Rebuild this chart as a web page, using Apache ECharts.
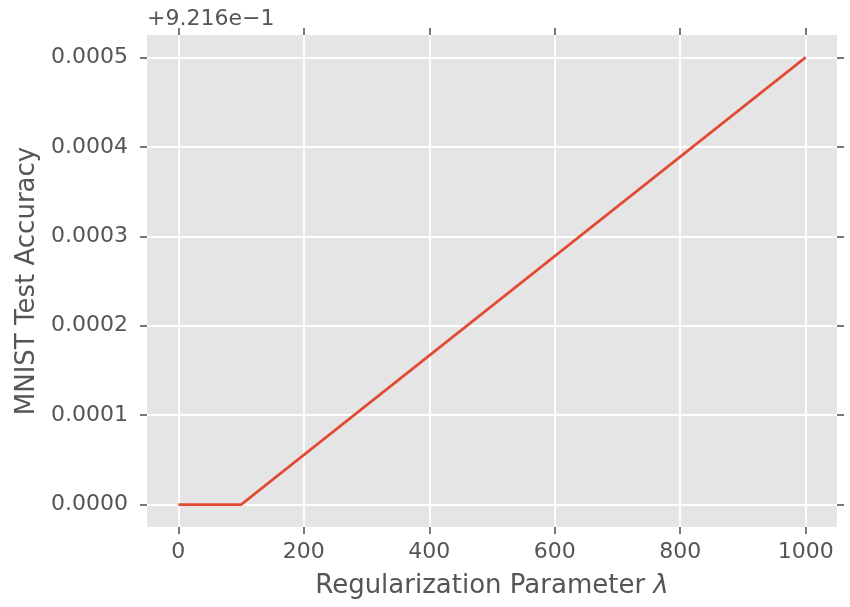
<!DOCTYPE html>
<html>
<head>
<meta charset="utf-8">
<script src="https://cdn.jsdelivr.net/npm/echarts@6/dist/echarts.min.js"></script>
<style>
  html, body { margin: 0; padding: 0; background: #fff; }
  #chart { width: 850px; height: 607px; }
</style>
</head>
<body>
<div id="chart"></div>
<script>
// lambda values and test accuracy (offset from 0.9216)
var lambdas = [0, 100, 1000];
var accuracy = [0, 0, 0.0005];
var xTicks = [0, 200, 400, 600, 800, 1000];
var yTicks = [0, 0.0001, 0.0002, 0.0003, 0.0004, 0.0005];
var offsetText = "+9.216e\u22121";

var chart = echarts.init(document.getElementById("chart"));
var textColor = "#555555";
var font = "DejaVu Sans";

var tickStyle = { color: "#555555", width: 1.6 };
var noLine = { show: false, onZero: false };

chart.setOption({
  animation: false,
  backgroundColor: "#ffffff",
  textStyle: { fontFamily: font },
  grid: {
    left: 147,
    right: 13,
    top: 35,
    bottom: 80,
    backgroundColor: "#E5E5E5",
    show: true,
    borderWidth: 0,
  },
  graphic: [
    {
      type: "text",
      left: 147,
      top: 8,
      style: { text: offsetText, fill: textColor, font: "22px DejaVu Sans" },
    },
  ],
  xAxis: [
    {
      type: "value",
      min: -50,
      max: 1050,
      position: "bottom",
      name: "Regularization Parameter {i|\u03bb}",
      nameLocation: "middle",
      nameGap: 46,
      nameTextStyle: {
        fontSize: 26,
        color: textColor,
        fontFamily: font,
        rich: { i: { fontSize: 26, color: textColor, fontFamily: font, fontStyle: "italic" } },
      },
      axisLine: noLine,
      axisTick: { show: true, length: 7, lineStyle: tickStyle, customValues: xTicks },
      axisLabel: {
        fontSize: 22,
        color: textColor,
        margin: 14,
        customValues: xTicks,
        formatter: function (v) {
          return String(v);
        },
      },
      splitLine: { show: true, lineStyle: { color: "#ffffff", width: 1.8 } },
    },
    {
      type: "value",
      min: -50,
      max: 1050,
      position: "top",
      axisLine: noLine,
      axisTick: { show: true, length: 7, lineStyle: tickStyle, customValues: xTicks },
      axisLabel: { show: false },
      splitLine: { show: false },
    },
  ],
  yAxis: [
    {
      type: "value",
      min: -0.000025,
      max: 0.000525,
      position: "left",
      name: "MNIST Test Accuracy",
      nameLocation: "middle",
      nameGap: 107,
      nameTextStyle: { fontSize: 26, color: textColor, fontFamily: font },
      axisLine: noLine,
      axisTick: { show: true, length: 7, lineStyle: tickStyle, customValues: yTicks },
      axisLabel: {
        fontSize: 22,
        color: textColor,
        margin: 19,
        customValues: yTicks,
        formatter: function (v) {
          return v.toFixed(4);
        },
      },
      splitLine: { show: true, lineStyle: { color: "#ffffff", width: 1.8 } },
    },
    {
      type: "value",
      min: -0.000025,
      max: 0.000525,
      position: "right",
      axisLine: noLine,
      axisTick: { show: true, length: 7, lineStyle: tickStyle, customValues: yTicks },
      axisLabel: { show: false },
      splitLine: { show: false },
    },
  ],
  series: [
    {
      type: "line",
      data: lambdas.map(function (x, i) {
        return [x, accuracy[i]];
      }),
      xAxisIndex: 0,
      yAxisIndex: 0,
      showSymbol: false,
      lineStyle: { color: "#E24A33", width: 2.6 },
      itemStyle: { color: "#E24A33" },
    },
  ],
});
</script>
</body>
</html>
